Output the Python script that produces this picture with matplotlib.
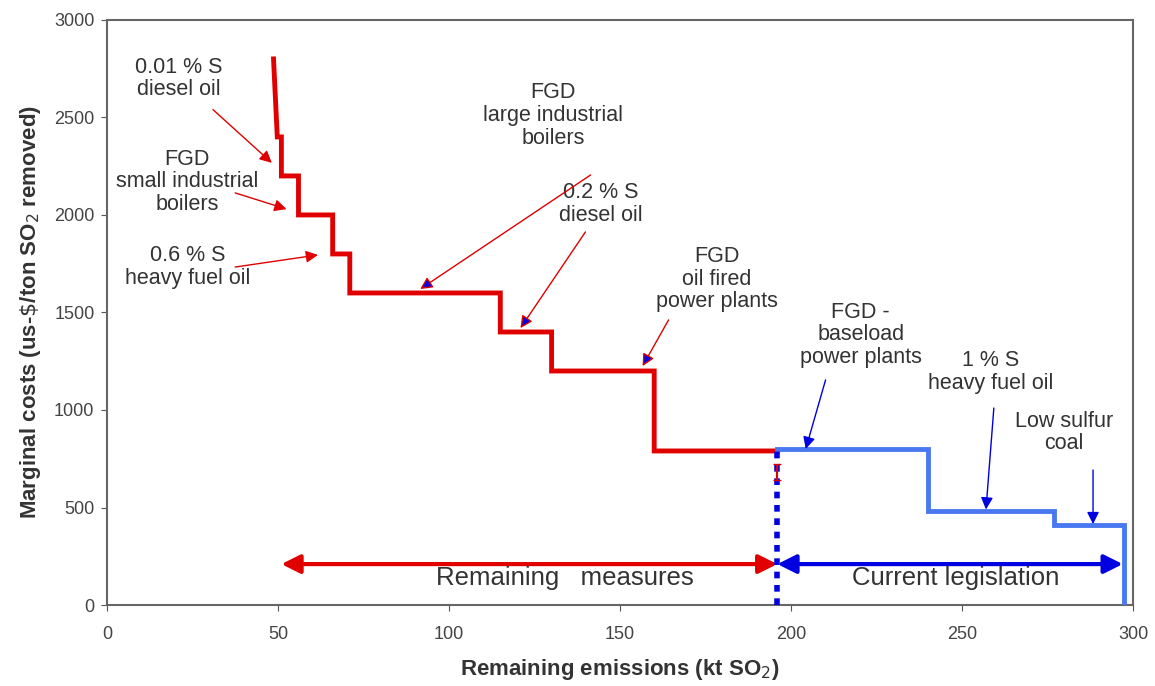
import matplotlib
matplotlib.use("Agg")
import matplotlib.pyplot as plt

plt.rcParams['font.family'] = ['Liberation Sans', 'DejaVu Sans']

# red cost curve (remaining measures): steep start then steps
red_top_x = [48.7, 49.8, 51]
red_top_y = [2800, 2400, 2400]
red_edges = [51, 56, 66, 71, 115, 130, 160, 196]
red_costs = [2200, 2000, 1800, 1600, 1400, 1200, 790]

# blue cost curve (current legislation)
blue_edges = [196, 240, 277, 297.4]
blue_costs = [800, 480, 410]

split_x = 196
arrow_y = 210

# annotations: text, text position, arrow tail, arrow tip, style
notes = [
    ("0.01 % S\ndiesel oil", (21, 2700), (31, 2540), (48.2, 2267), 'r'),
    ("FGD\nsmall industrial\nboilers", (23.5, 2170), (37.5, 2113), (52.5, 2030), 'r'),
    ("0.6 % S\nheavy fuel oil", (23.7, 1733), (37.5, 1733), (61.7, 1795), 'r'),
    ("FGD\nlarge industrial\nboilers", (130.5, 2510), (141.4, 2205), (91.6, 1620), 'rb'),
    ("0.2 % S\ndiesel oil", (144.3, 2056), (139.9, 1913), (120.9, 1420), 'rb'),
    ("FGD\noil fired\npower plants", (178.2, 1670), (164.2, 1462), (156.6, 1225), 'rb'),
    ("FGD -\nbaseload\npower plants", (220.4, 1385), (210.1, 1154), (204.3, 800), 'b'),
    ("1 % S\nheavy fuel oil", (258.4, 1195), (259.3, 1010), (257, 490), 'b'),
    ("Low sulfur\ncoal", (279.8, 885), (288.3, 692), (288.3, 415), 'b'),
]

red = '#e00000'
blue_line = '#4a78f0'
dark_blue = '#0000e0'
text_col = '#333333'

fig = plt.figure(figsize=(11.55, 6.86), dpi=100)
ax = fig.add_axes([0.0926, 0.118, 0.8884, 0.853])

# red steps
rx = list(red_top_x)
ry = list(red_top_y)
for i, c in enumerate(red_costs):
    rx += [red_edges[i], red_edges[i + 1]]
    ry += [c, c]
ax.plot(rx, ry, color=red, lw=3.5, solid_joinstyle='miter', zorder=3)

# blue steps
bx, by = [], []
for i, c in enumerate(blue_costs):
    bx += [blue_edges[i], blue_edges[i + 1]]
    by += [c, c]
bx.append(blue_edges[-1])
by.append(0)
ax.plot(bx, by, color=blue_line, lw=3.5, solid_joinstyle='miter', zorder=3)

# dashed split line and small error mark
ax.plot([split_x, split_x], [0, 790], color=dark_blue, lw=4, dashes=(1.2, 1.2), zorder=4)
ax.errorbar([split_x], [683], yerr=[[40], [40]], color=red, lw=1.5, capsize=3, zorder=5)

# double arrows
ax.annotate('', xy=(split_x, arrow_y), xytext=(51, arrow_y),
            arrowprops=dict(arrowstyle='<|-|>', color=red, lw=3, mutation_scale=28, shrinkA=0, shrinkB=0))
ax.annotate('', xy=(297, arrow_y), xytext=(split_x, arrow_y),
            arrowprops=dict(arrowstyle='<|-|>', color=dark_blue, lw=3, mutation_scale=28, shrinkA=0, shrinkB=0))
ax.text(134, 140, "Remaining   measures", ha='center', va='center', fontsize=18.5, color=text_col)
ax.text(248, 140, "Current legislation", ha='center', va='center', fontsize=18.5, color=text_col)

for txt, pos, tail, tip, sty in notes:
    ax.text(pos[0], pos[1], txt, ha='center', va='center', fontsize=15.5,
            color=text_col, linespacing=1.1)
    if sty == 'r':
        ap = dict(arrowstyle='-|>', color=red, lw=1, mutation_scale=18, shrinkA=0, shrinkB=0)
    elif sty == 'rb':
        ap = dict(arrowstyle='-|>', edgecolor=red, facecolor=dark_blue, lw=1,
                  mutation_scale=18, shrinkA=0, shrinkB=0)
    else:
        ap = dict(arrowstyle='-|>', color=dark_blue, lw=1, mutation_scale=18, shrinkA=0, shrinkB=0)
    ax.annotate('', xy=tip, xytext=tail, arrowprops=ap, zorder=6)

ax.set_xlim(0, 300)
ax.set_ylim(0, 3000)
ax.set_xticks(range(0, 301, 50))
ax.set_yticks(range(0, 3001, 500))
ax.tick_params(labelsize=13, labelcolor='#444444', color='#555555', length=4)
ax.tick_params(axis='x', pad=11)
ax.tick_params(axis='y', pad=5)
for s in ax.spines.values():
    s.set_color('#666666')
    s.set_linewidth(1.5)

ax.set_xlabel("Remaining emissions (kt SO$_2$)", fontsize=16, fontweight='bold',
              color='#333333', labelpad=10)
ax.set_ylabel("Marginal costs (us-$\\$$/ton SO$_2$ removed)", fontsize=16, fontweight='bold',
              color='#333333', labelpad=8)

fig.savefig('out.png', dpi=100)
